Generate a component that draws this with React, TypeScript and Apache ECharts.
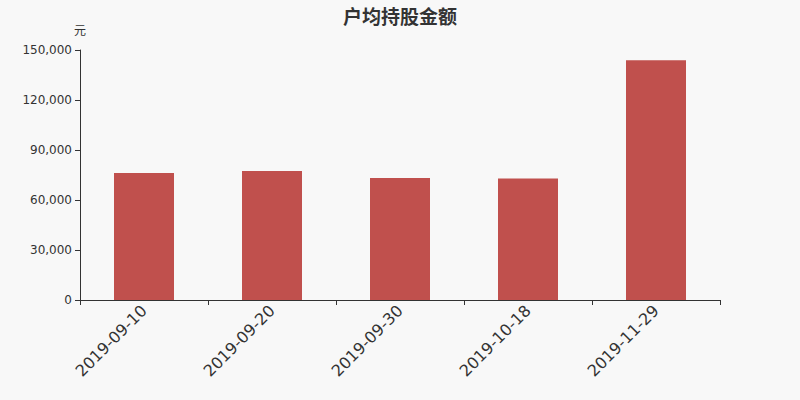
import { useEffect, useRef, type JSX } from "react";
import * as echarts from "echarts";

const dates = ["2019-09-10", "2019-09-20", "2019-09-30", "2019-10-18", "2019-11-29"];
const amounts = [76200, 77400, 73200, 72900, 143800];

function App(): JSX.Element {
  const chartRef = useRef<HTMLDivElement>(null);

  useEffect(() => {
    if (!chartRef.current) return;
    const chart = echarts.init(chartRef.current, null, { renderer: "svg" });
    const font = "'DejaVu Sans', sans-serif";

    chart.setOption({
      animation: false,
      backgroundColor: "#f8f8f8",
      title: {
        text: "户均持股金额",
        left: "center",
        top: 1,
        textStyle: {
          fontSize: 19,
          fontWeight: "bold",
          color: "#333",
          fontFamily: "'Noto Sans CJK SC', sans-serif",
        },
      },
      grid: { left: 80, right: 80, top: 50, bottom: 100 },
      xAxis: {
        type: "category",
        data: dates,
        axisLine: { lineStyle: { color: "#333" } },
        axisTick: { show: true, length: 5, alignWithLabel: false },
        axisLabel: {
          rotate: 45,
          fontSize: 16,
          color: "#333",
          margin: 8,
          fontFamily: font,
        },
      },
      yAxis: {
        type: "value",
        name: "元",
        nameGap: 15,
        nameTextStyle: {
          fontSize: 12,
          color: "#333",
          fontFamily: "'Noto Sans CJK SC', sans-serif",
        },
        min: 0,
        max: 150000,
        interval: 30000,
        splitLine: { show: false },
        axisLine: { show: true, lineStyle: { color: "#333" } },
        axisTick: { show: true, length: 5 },
        axisLabel: {
          fontSize: 12,
          color: "#333",
          fontFamily: font,
          formatter: (v: number) => v.toLocaleString("en-US"),
        },
      },
      series: [
        {
          type: "bar",
          data: amounts,
          barWidth: 60,
          itemStyle: { color: "#c0504d" },
        },
      ],
    });

    return () => {
      chart.dispose();
    };
  }, []);

  return (
    <div
      ref={chartRef}
      style={{ position: "fixed", left: 0, top: 0, width: 800, height: 400 }}
    />
  );
}

export default App;
